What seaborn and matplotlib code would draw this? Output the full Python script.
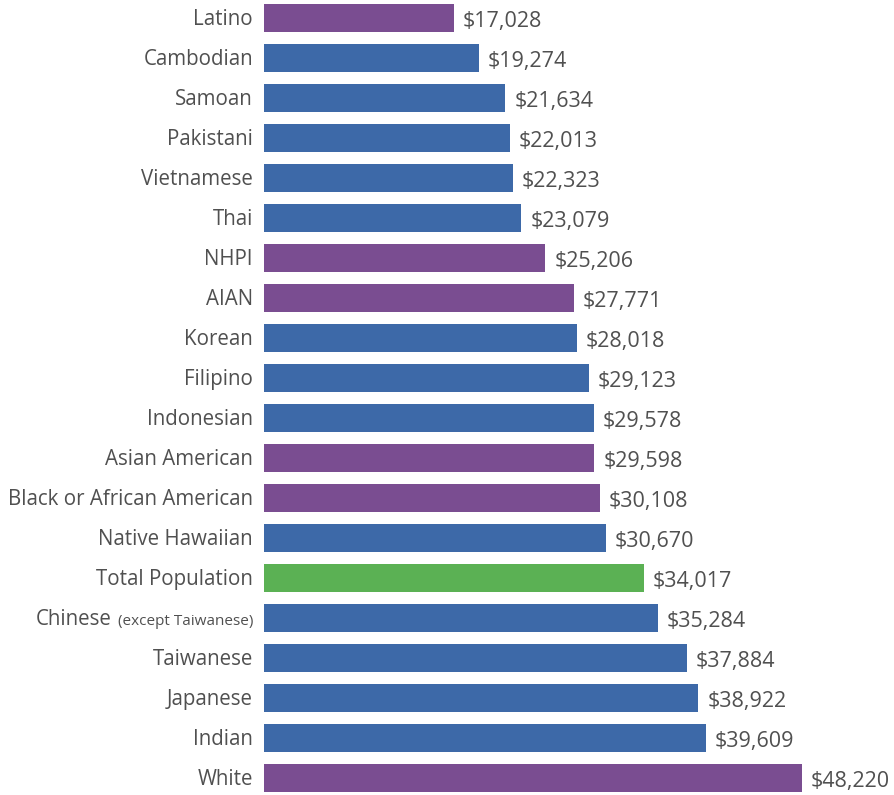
import matplotlib
matplotlib.use("Agg")
import matplotlib.pyplot as plt
import matplotlib.transforms as mtransforms
import seaborn as sns
import pandas as pd

# Per capita income by group
groups = ["Latino", "Cambodian", "Samoan", "Pakistani", "Vietnamese", "Thai",
          "NHPI", "AIAN", "Korean", "Filipino", "Indonesian", "Asian American",
          "Black or African American", "Native Hawaiian", "Total Population",
          "Chinese", "Taiwanese", "Japanese", "Indian", "White"]
incomes = [17028, 19274, 21634, 22013, 22323, 23079, 25206, 27771, 28018,
           29123, 29578, 29598, 30108, 30670, 34017, 35284, 37884, 38922,
           39609, 48220]
kinds = ["race", "sub", "sub", "sub", "sub", "sub", "race", "race", "sub",
         "sub", "sub", "race", "race", "sub", "total", "sub", "sub", "sub",
         "sub", "race"]
palette = {"race": "#7A4D91", "sub": "#3D69A8", "total": "#5BB154"}

df = pd.DataFrame({"group": groups, "income": incomes, "kind": kinds})

sns.set_theme(style="white")
plt.rcParams["font.family"] = ["Open Sans", "DejaVu Sans"]
text_color = "#505050"

fig = plt.figure(figsize=(8.94, 7.95), dpi=100)
ax = fig.add_axes([264 / 894, 0, 630 / 894, 1])

sns.barplot(data=df, y="group", x="income", hue="kind", palette=palette,
            dodge=False, legend=False, width=0.72, saturation=1, ax=ax,
            orient="h", linewidth=0)

ax.set_xlim(0, 48220 * 630 / 538)
ax.set_ylim(19 + 17 / 40, -18 / 40)
ax.set_xlabel("")
ax.set_ylabel("")
ax.set_xticks([])
for s in ax.spines.values():
    s.set_visible(False)

# value labels
for i, v in enumerate(incomes):
    ax.text(v + 800, i + 0.08, f"${v:,}", va="center", ha="left", fontsize=15.5,
            color=text_color)

# category labels
ax.set_yticks(range(len(groups)))
ax.set_yticklabels([])
ax.tick_params(axis="y", length=0)
trans = mtransforms.blended_transform_factory(ax.transAxes, ax.transData)
renderer = fig.canvas.get_renderer()
for i, g in enumerate(groups):
    if g == "Chinese":
        small = ax.text(-11 / 630, i + 0.09, "(except Taiwanese)", transform=trans,
                        ha="right", va="center", fontsize=11, color=text_color)
        bb = small.get_window_extent(renderer)
        x_ax = ax.transAxes.inverted().transform((bb.x0 - 6, 0))[0]
        ax.text(x_ax, i + 0.05, "Chinese", transform=trans, ha="right",
                va="center", fontsize=14.8, color=text_color)
    else:
        ax.text(-11 / 630, i + 0.05, g, transform=trans, ha="right", va="center",
                fontsize=14.8, color=text_color)

fig.savefig("out.png", dpi=100)
